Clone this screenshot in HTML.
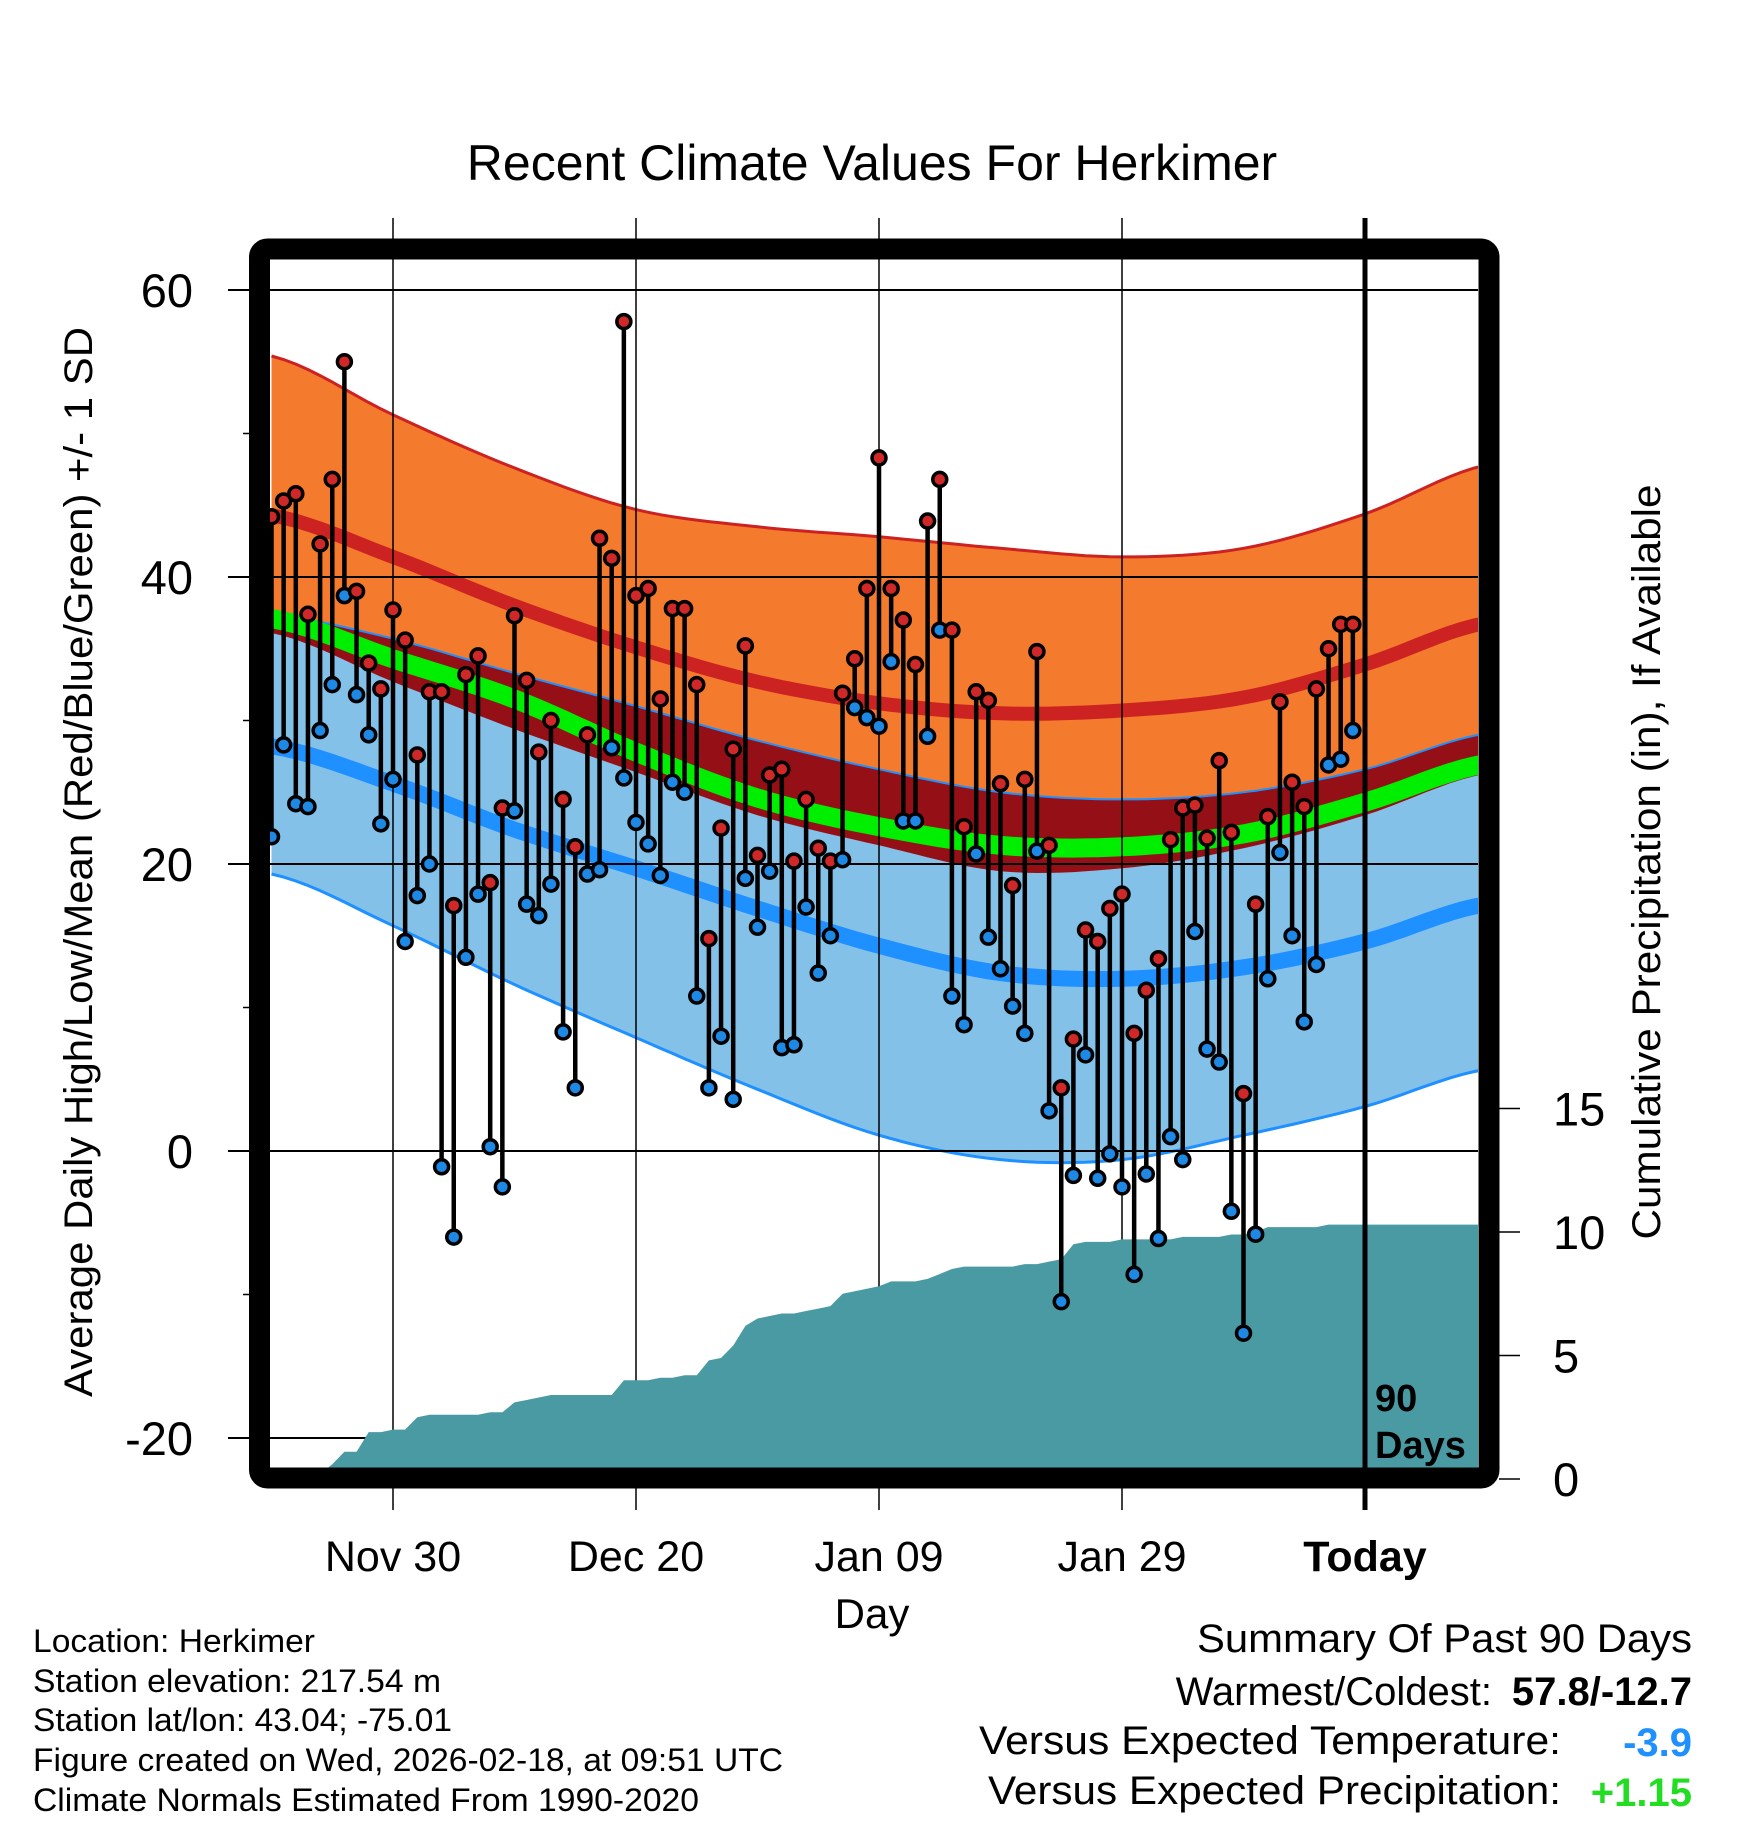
<!DOCTYPE html>
<html><head><meta charset="utf-8">
<style>
html,body{margin:0;padding:0;background:#fff;}
svg{display:block;font-family:"Liberation Sans",sans-serif;}
</style></head>
<body>
<svg id="chart" width="1748" height="1828" viewBox="0 0 1748 1828" xmlns="http://www.w3.org/2000/svg">
<defs><clipPath id="plotclip"><rect x="270" y="259" width="1208" height="1209"/></clipPath></defs>
<rect x="0" y="0" width="1748" height="1828" fill="#fff"/>
<text x="872" y="180" font-size="50" text-anchor="middle">Recent Climate Values For Herkimer</text>
<g id="bands" clip-path="url(#plotclip)"></g>
<g id="grid"></g>
<g id="precip" clip-path="url(#plotclip)"></g>
<g id="marks"></g>
<g id="axes"></g>
<text transform="translate(92,862) rotate(-90)" font-size="40" text-anchor="middle" textLength="1070" lengthAdjust="spacingAndGlyphs">Average Daily High/Low/Mean (Red/Blue/Green) +/- 1 SD</text>
<text transform="translate(1660,862) rotate(-90)" font-size="40" text-anchor="middle" textLength="755" lengthAdjust="spacingAndGlyphs">Cumulative Precipitation (in), If Available</text>
<text x="872" y="1628" font-size="42" text-anchor="middle">Day</text>
<g font-size="32">
<text x="33" y="1652" textLength="282" lengthAdjust="spacingAndGlyphs">Location: Herkimer</text>
<text x="33" y="1692" textLength="408" lengthAdjust="spacingAndGlyphs">Station elevation: 217.54 m</text>
<text x="33" y="1731" textLength="419" lengthAdjust="spacingAndGlyphs">Station lat/lon: 43.04; -75.01</text>
<text x="33" y="1771" textLength="750" lengthAdjust="spacingAndGlyphs">Figure created on Wed, 2026-02-18, at 09:51 UTC</text>
<text x="33" y="1811" textLength="666" lengthAdjust="spacingAndGlyphs">Climate Normals Estimated From 1990-2020</text>
</g>
<g font-size="40">
<text x="1692" y="1652" text-anchor="end" textLength="495" lengthAdjust="spacingAndGlyphs">Summary Of Past 90 Days</text>
<text x="1492" y="1705" text-anchor="end">Warmest/Coldest:</text>
<text x="1692" y="1705" text-anchor="end" font-weight="bold">57.8/-12.7</text>
<text x="1561" y="1754" text-anchor="end" textLength="582" lengthAdjust="spacingAndGlyphs">Versus Expected Temperature:</text>
<text x="1692" y="1756" text-anchor="end" font-weight="bold" fill="#1e90ff">-3.9</text>
<text x="1561" y="1804" text-anchor="end" textLength="573" lengthAdjust="spacingAndGlyphs">Versus Expected Precipitation:</text>
<text x="1692" y="1806" text-anchor="end" font-weight="bold" fill="#22dd22">+1.15</text>
</g>
</svg>
<script>
// --- data ---
const highs=[44.2,45.3,45.8,37.4,42.3,46.8,55.0,39.0,34.0,32.2,37.7,35.6,27.6,32.0,32.0,17.1,33.2,34.5,18.7,23.9,37.3,32.8,27.8,30.0,24.5,21.2,29.0,42.7,41.3,57.8,38.7,39.2,31.5,37.8,37.8,32.5,14.8,22.5,28.0,35.2,20.6,26.2,26.6,20.2,24.5,21.1,20.2,31.9,34.3,39.2,48.3,39.2,37.0,33.9,43.9,46.8,36.3,22.6,32.0,31.4,25.6,18.5,25.9,34.8,21.3,4.4,7.8,15.4,14.6,16.9,17.9,8.2,11.2,13.4,21.7,23.9,24.1,21.8,27.2,22.2,4.0,17.2,23.3,31.3,25.7,24.0,32.2,35.0,36.7,36.7];
const lows=[21.9,28.3,24.2,24.0,29.3,32.5,38.7,31.8,29.0,22.8,25.9,14.6,17.8,20.0,-1.1,-6.0,13.5,17.9,0.3,-2.5,23.7,17.2,16.4,18.6,8.3,4.4,19.3,19.6,28.1,26.0,22.9,21.4,19.2,25.7,25.0,10.8,4.4,8.0,3.6,19.0,15.6,19.5,7.2,7.4,17.0,12.4,15.0,20.3,30.9,30.2,29.6,34.1,23.0,23.0,28.9,36.3,10.8,8.8,20.7,14.9,12.7,10.1,8.2,20.9,2.8,-10.5,-1.7,6.7,-1.9,-0.2,-2.5,-8.6,-1.6,-6.1,1.0,-0.6,15.3,7.1,6.2,-4.2,-12.7,-5.8,12.0,20.8,15.0,9.0,13.0,26.9,27.3,29.3];
const precipCum=[0,0,0,0,0.2,0.6,1.1,1.1,1.9,1.9,2.0,2.0,2.5,2.6,2.6,2.6,2.6,2.6,2.7,2.7,3.1,3.2,3.3,3.4,3.4,3.4,3.4,3.4,3.4,4.0,4.0,4.0,4.1,4.1,4.2,4.2,4.8,4.9,5.4,6.2,6.5,6.6,6.7,6.7,6.8,6.9,7.0,7.5,7.6,7.7,7.8,8.0,8.0,8.0,8.1,8.3,8.5,8.6,8.6,8.6,8.6,8.6,8.7,8.7,8.8,8.9,9.5,9.6,9.6,9.6,9.7,9.7,9.7,9.7,9.7,9.8,9.8,9.8,9.8,9.9,9.9,10.0,10.2,10.2,10.2,10.2,10.2,10.3,10.3,10.3,10.3];
const normDays=[0,10,20,30,40,50,60,70,80,90,100];
const hiPlusSD=[55.4,51.3,47.6,44.7,43.5,42.8,42.0,41.4,42.0,44.4,47.8];
const normHigh=[44.3,41.4,38.0,35.1,32.7,31.2,30.5,30.7,31.6,33.9,36.8];
const hiMinusSD=[36.1,32.7,29.4,26.4,23.4,21.3,19.5,19.7,21.1,23.4,26.3];
const normMean=[37.1,34.3,31.5,27.8,24.6,22.6,21.3,21.2,22.1,24.3,27.0];
const loPlusSD=[37.4,35.7,33.3,31.0,28.6,26.6,25.0,24.5,25.0,26.6,29.1];
const normLow=[28.2,25.6,22.4,19.7,16.9,14.3,12.4,12.0,12.8,14.6,17.2];
const loMinusSD=[19.3,15.7,11.6,7.9,4.3,1.1,-0.6,-0.6,1.1,3.1,5.7];
const tempTicks=[60,40,20,0,-20];
const tempMinor=[50,30,10,-10];
const precipTicks=[15,10,5,0];
const dateLabels=["Nov 30","Dec 20","Jan 09","Jan 29","Today"];
const dateDays=[10,30,50,70,90];

const NS="http://www.w3.org/2000/svg";
function xDay(d){return 271.5+12.15*d;}
function yT(v){return 577-(v-40)*14.35;}
function yP(v){return 1479-24.7*v;}
function mk(tag,attrs,parent){const e=document.createElementNS(NS,tag);for(const k in attrs)e.setAttribute(k,attrs[k]);parent.appendChild(e);return e;}
function dense(arr){const pts=[];const n=arr.length;for(let i=0;i<n-1;i++){const p0=arr[Math.max(0,i-1)],p1=arr[i],p2=arr[i+1],p3=arr[Math.min(n-1,i+2)];for(let s=0;s<10;s++){const t=s/10;const v=0.5*((2*p1)+(-p0+p2)*t+(2*p0-5*p1+4*p2-p3)*t*t+(-p0+3*p1-3*p2+p3)*t*t*t);pts.push([normDays[i]+(normDays[i+1]-normDays[i])*t,v]);}}pts.push([normDays[n-1],arr[n-1]]);return pts;}
function linePath(arr){return dense(arr).map((p,i)=>(i?'L':'M')+xDay(p[0]).toFixed(1)+','+yT(p[1]).toFixed(1)).join('');}
function bandPath(top,bot){const a=dense(top),b=dense(bot).reverse();return a.map((p,i)=>(i?'L':'M')+xDay(p[0]).toFixed(1)+','+yT(p[1]).toFixed(1)).join('')+b.map(p=>'L'+xDay(p[0]).toFixed(1)+','+yT(p[1]).toFixed(1)).join('')+'Z';}

const bands=document.getElementById('bands');
let e;
e=mk('path',{d:bandPath(hiPlusSD,hiMinusSD),fill:'#f47a2d'},bands);


e=mk('path',{d:bandPath(loPlusSD,loMinusSD),fill:'#84c1e8'},bands);


e=mk('path',{d:bandPath(loPlusSD,hiMinusSD),fill:'#940f16'},bands);


e=mk('path',{d:linePath(hiPlusSD),fill:'none',stroke:'#cc2222','stroke-width':3},bands);


e=mk('path',{d:linePath(normHigh),fill:'none',stroke:'#cc2222','stroke-width':14},bands);


e=mk('path',{d:linePath(loPlusSD),fill:'none',stroke:'#1e90ff','stroke-width':2},bands);


e=mk('path',{d:linePath(normLow),fill:'none',stroke:'#1e90ff','stroke-width':16},bands);


e=mk('path',{d:linePath(loMinusSD),fill:'none',stroke:'#1e90ff','stroke-width':3},bands);


e=mk('path',{d:linePath(normMean),fill:'none',stroke:'#00ee00','stroke-width':19},bands);



const grid=document.getElementById('grid');
tempTicks.forEach(v=>{
  const l=mk('line',{x1:228,x2:1478,y1:yT(v),y2:yT(v),stroke:'#000','stroke-width':2},grid);
  
  
});
tempMinor.forEach(v=>{
  const l=mk('line',{x1:243,x2:252,y1:yT(v),y2:yT(v),stroke:'#000','stroke-width':1.5},grid);
  
  
});
dateDays.forEach((d,i)=>{
  const l=mk('line',{x1:xDay(d),x2:xDay(d),y1:218,y2:1510,stroke:'#000','stroke-width':i==4?5:1.5},grid);
  
  
});

const pg=document.getElementById('precip');
let pd='M'+xDay(0)+','+yP(0);
precipCum.forEach((v,i)=>{pd+='L'+xDay(i).toFixed(1)+','+yP(v).toFixed(1);});
pd+='L1480,'+yP(precipCum[precipCum.length-1]).toFixed(1)+'L1480,'+yP(0)+'Z';
e=mk('path',{d:pd,fill:'#4a9aa3'},pg);


e=mk('line',{x1:xDay(90),x2:xDay(90),y1:259,y2:1470,stroke:'#000','stroke-width':5},pg);



const mg=document.getElementById('marks');
highs.forEach((h,i)=>{
  const x=xDay(i);
  const s=mk('line',{x1:x,x2:x,y1:yT(h),y2:yT(lows[i]),stroke:'#000','stroke-width':4.5},mg);
  
  
});
highs.forEach((h,i)=>{
  const x=xDay(i);
  const c1=mk('circle',{cx:x,cy:yT(lows[i]),r:7,fill:'#1e88e5',stroke:'#000','stroke-width':3.5},mg);
  
  
  const c2=mk('circle',{cx:x,cy:yT(h),r:7,fill:'#d02828',stroke:'#000','stroke-width':3.5},mg);
  
  
});

const ax=document.getElementById('axes');
e=mk('rect',{x:259.5,y:249,width:1229.5,height:1229,rx:8,fill:'none',stroke:'#000','stroke-width':21},ax);


tempTicks.forEach(v=>{
  const t=mk('text',{x:193,y:yT(v)+17,'font-size':47,'text-anchor':'end'},ax);
  t.textContent=String(v);
  
  
});
precipTicks.forEach(v=>{
  const l=mk('line',{x1:1499,x2:1520,y1:yP(v),y2:yP(v),stroke:'#000','stroke-width':1.5},ax);
  
  
  const t=mk('text',{x:1553,y:yP(v)+17,'font-size':47},ax);
  t.textContent=String(v);
  
  
});
dateLabels.forEach((lab,i)=>{
  const t=mk('text',{x:xDay(dateDays[i]),y:1571,'font-size':43,'text-anchor':'middle'},ax);
  if(i==4)t.setAttribute('font-weight','bold');
  t.textContent=lab;
  
  
});
const t1=mk('text',{x:1375,y:1411,'font-size':38,'font-weight':'bold'},ax);
t1.textContent='90';


const t2=mk('text',{x:1375,y:1458,'font-size':38,'font-weight':'bold'},ax);
t2.textContent='Days';


</script>
</body></html>
